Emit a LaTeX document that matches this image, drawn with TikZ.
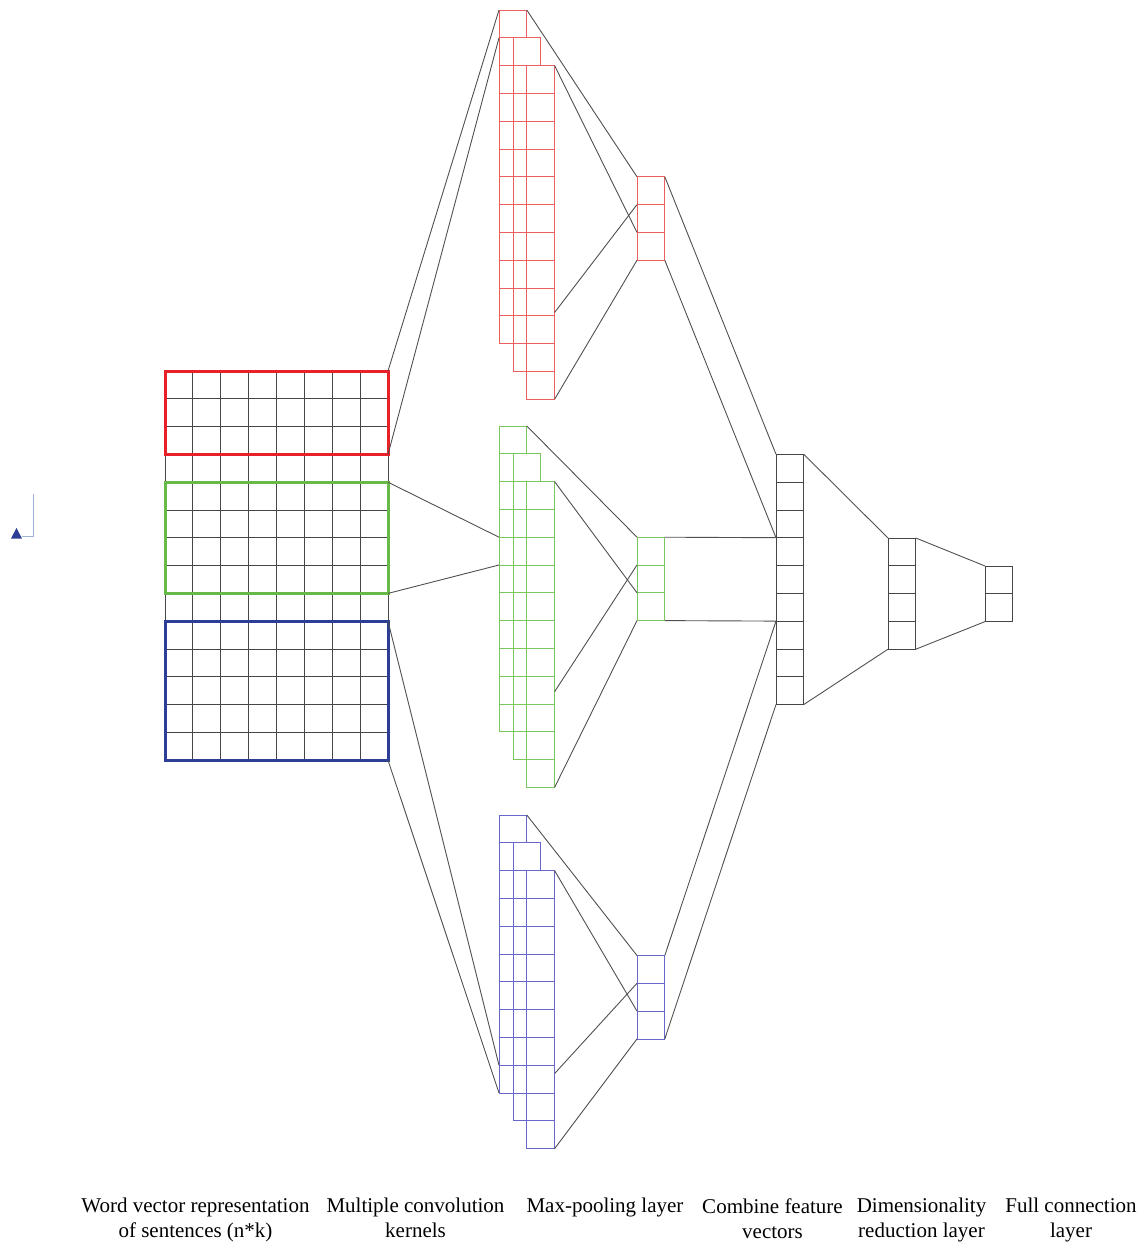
\documentclass[tikz,border=0pt]{standalone}
\usepackage{fontspec}
\setmainfont{Liberation Serif}
\usetikzlibrary{calc}

\definecolor{boxred}{RGB}{232,32,40}
\definecolor{boxgreen}{RGB}{104,186,72}
\definecolor{boxblue}{RGB}{44,62,150}
\definecolor{kred}{RGB}{238,96,96}
\definecolor{kgreen}{RGB}{122,200,92}
\definecolor{kblue}{RGB}{104,104,204}
\definecolor{linkc}{RGB}{80,80,80}
\definecolor{gridc}{RGB}{70,70,70}
\definecolor{anchorc}{RGB}{160,178,215}

\tikzset{
  link/.style={draw=linkc, line width=0.9pt},
  cellbox/.style={inner sep=0pt, outer sep=0pt, anchor=north west},
  inbox/.style={cellbox, line width=3pt},
  lbl/.style={font=\fontsize{21}{25}\selectfont, align=center, anchor=north, inner sep=0pt},
}

% one opaque column of n square cells: name, x, y(top), n, colour
\newcommand\cellcolumn[5]{%
  \node[cellbox, draw=#5, fill=white, line width=0.8pt, minimum width=27.8pt,
        minimum height=#4*27.8pt] (#1) at (#2,#3) {};
  \pgfmathtruncatemacro\cellsep{#4-1}%
  \foreach \k in {1,...,\cellsep}
    \draw[#5, line width=0.8pt] ($(#1.north west)!\k/#4!(#1.south west)$)
      -- ($(#1.north east)!\k/#4!(#1.south east)$);
}

\begin{document}
\begin{tikzpicture}[x=1pt, y=-1pt]
\useasboundingbox (0,0) rectangle (1143,1242);

% sentence matrix n*k (14 words, 8 dimensions)
\node[cellbox, draw=gridc, line width=0.8pt, minimum width=223pt,
      minimum height=389.2pt] (wm) at (165,371) {};
\foreach \i in {1,...,7}
  \draw[gridc, line width=0.8pt] ($(wm.north west)!\i/8!(wm.north east)$)
    -- ($(wm.south west)!\i/8!(wm.south east)$);
\foreach \j in {1,...,13}
  \draw[gridc, line width=0.8pt] ($(wm.north west)!\j/14!(wm.south west)$)
    -- ($(wm.north east)!\j/14!(wm.south east)$);

% kernel windows of height 3, 4 and 5
\node[inbox, draw=boxred, minimum width=223pt, minimum height=83.4pt] (rbox) at (165,371) {};
\node[inbox, draw=boxgreen, minimum width=223pt, minimum height=111.2pt] (gbox) at (165,482.2) {};
\node[inbox, draw=boxblue, minimum width=223pt, minimum height=139pt] (bbox) at (165,621.2) {};

% feature maps of the three kernels, stacked back to front
\cellcolumn{rk1}{499}{10}{12}{kred}
\cellcolumn{rk2}{512.9}{37.8}{12}{kred}
\cellcolumn{rk3}{526.8}{65.6}{12}{kred}
\cellcolumn{gk1}{499}{426}{11}{kgreen}
\cellcolumn{gk2}{512.9}{453.8}{11}{kgreen}
\cellcolumn{gk3}{526.8}{481.6}{11}{kgreen}
\cellcolumn{bk1}{499}{815}{10}{kblue}
\cellcolumn{bk2}{512.9}{842.8}{10}{kblue}
\cellcolumn{bk3}{526.8}{870.6}{10}{kblue}

% max-pooling outputs
\cellcolumn{rp}{637}{176.8}{3}{kred}
\cellcolumn{gp}{637}{537.2}{3}{kgreen}
\cellcolumn{bp}{637}{955.5}{3}{kblue}

% combined vector, reduced vector, output
\cellcolumn{cv}{776}{454.3}{9}{gridc}
\cellcolumn{dr}{888}{538}{4}{gridc}
\cellcolumn{fc}{985}{566}{2}{gridc}

% input windows to feature maps
\draw[link] (rbox.north east) -- (rk1.north west);
\draw[link] (rbox.south east) -- ($(rk1.north west)!1/12!(rk1.south west)$);
\draw[link] (gbox.north east) -- ($(gk1.north west)!4/11!(gk1.south west)$);
\draw[link] (gbox.south east) -- ($(gk1.north west)!5/11!(gk1.south west)$);
\draw[link] (bbox.north east) -- ($(bk1.north west)!9/10!(bk1.south west)$);
\draw[link] (bbox.south east) -- (bk1.south west);

% feature maps to pooling
\draw[link] (rk1.north east) -- (rp.north west);
\draw[link] (rk3.north east) -- ($(rp.north west)!2/3!(rp.south west)$);
\draw[link] ($(rk3.north east)!0.74!(rk3.south east)$) -- ($(rp.north west)!1/3!(rp.south west)$);
\draw[link] (rk3.south east) -- (rp.south west);

\draw[link] (gk1.north east) -- (gp.north west);
\draw[link] (gk3.north east) -- ($(gp.north west)!2/3!(gp.south west)$);
\draw[link] ($(gk3.north east)!0.687!(gk3.south east)$) -- ($(gp.north west)!1/3!(gp.south west)$);
\draw[link] (gk3.south east) -- (gp.south west);

\draw[link] (bk1.north east) -- (bp.north west);
\draw[link] (bk3.north east) -- ($(bp.north west)!2/3!(bp.south west)$);
\draw[link] ($(bk3.north east)!0.73!(bk3.south east)$) -- ($(bp.north west)!1/3!(bp.south west)$);
\draw[link] (bk3.south east) -- (bp.south west);

% pooling to combined vector
\draw[link] (rp.north east) -- (cv.north west);
\draw[link] (rp.south east) -- ($(cv.north west)!3/9!(cv.south west)$);
\draw[link] (gp.north east) -- ($(cv.north west)!3/9!(cv.south west)$);
\draw[link] (gp.south east) -- ($(cv.north west)!6/9!(cv.south west)$);
\draw[link] (bp.north east) -- ($(cv.north west)!6/9!(cv.south west)$);
\draw[link] (bp.south east) -- (cv.south west);

% combined -> reduced -> output
\draw[link] (cv.north east) -- (dr.north west);
\draw[link] (cv.south east) -- (dr.south west);
\draw[link] (dr.north east) -- (fc.north west);
\draw[link] (dr.south east) -- (fc.south west);

% small anchor mark at the left margin
\draw[anchorc, line width=1pt] (33,494) -- (33,536) -- (22,536);
\fill[boxblue] (11,538.5) -- (22,538.5) -- (16.5,528) -- cycle;

% layer captions
\node[lbl] (t1) at (195.5,1197.5) {Word vector representation\\of sentences (n*k)};
\node[lbl] (t2) at (415.5,1197.5) {Multiple convolution\\kernels};
\node[lbl] (t3) at (605,1197.5) {Max-pooling layer};
\node[lbl] (t4) at (772.5,1198) {Combine feature\\vectors};
\node[lbl] (t5) at (921.5,1197.5) {Dimensionality\\reduction layer};
\node[lbl] (t6) at (1071,1197.5) {Full connection\\layer};
\end{tikzpicture}
\end{document}
